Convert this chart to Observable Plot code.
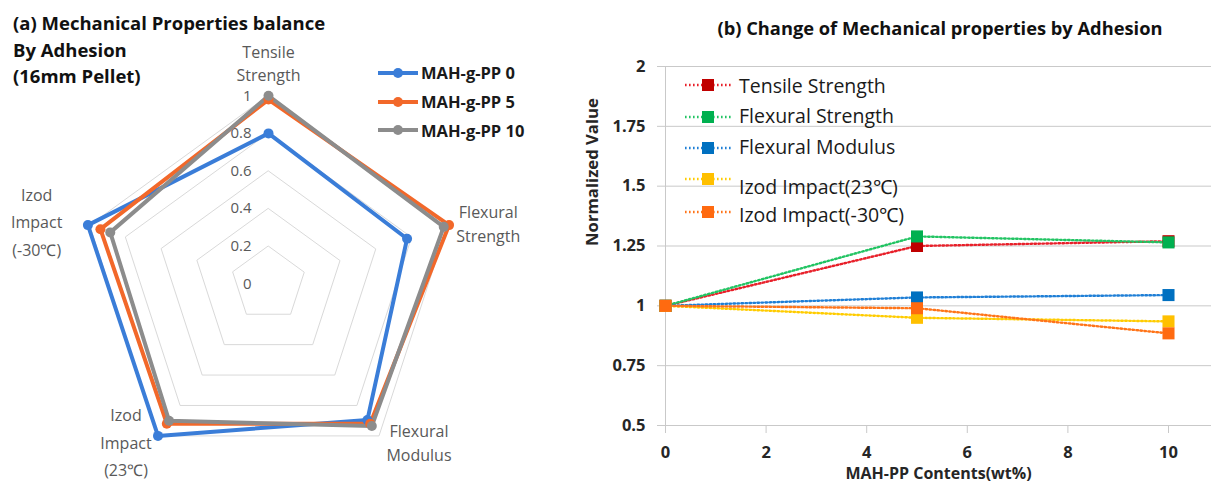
<!DOCTYPE html>
<html>
<head>
<meta charset="utf-8">
<script src="https://cdn.jsdelivr.net/npm/d3@7"></script>
<script src="https://cdn.jsdelivr.net/npm/@observablehq/plot@0.6"></script>
<style>
  body { margin: 0; background: #fff; font-family: "Open Sans", sans-serif; }
  #page { position: relative; width: 1211px; height: 484px; overflow: hidden; background: #fff; }
  #page > * { position: absolute; }
  .title { font-weight: bold; color: #111; white-space: nowrap; }
  .legend-row { display: flex; align-items: center; white-space: nowrap; }
  .legend-row svg { flex: none; }
</style>
</head>
<body>
<div id="page"></div>
<script>
// ---------- (a) radar: mechanical properties balance ----------
const radarAxes = ["Tensile\nStrength", "Flexural\nStrength", "Flexural\nModulus", "Izod\nImpact\n(23℃)", "Izod\nImpact\n(-30℃)"];
const radarSeries = ["MAH-g-PP 0", "MAH-g-PP 5", "MAH-g-PP 10"];
const radarMah0 = [0.80, 0.775, 0.895, 1.0, 1.01];
const radarMah5 = [0.98, 1.01, 0.92, 0.92, 0.94];
const radarMah10 = [1.0, 0.98, 0.935, 0.90, 0.885];
const radarRings = [0, 0.2, 0.4, 0.6, 0.8, 1];
const radarColors = ["#3a7dd8", "#f2682a", "#8c8c8c"];

// ---------- (b) normalized change vs. MAH-PP content ----------
const contents = [0, 5, 10];
const propNames = ["Tensile Strength", "Flexural Strength", "Flexural Modulus", "Izod Impact(23℃)", "Izod Impact(-30℃)"];
const tensileStrength = [1, 1.25, 1.27];
const flexuralStrength = [1, 1.29, 1.265];
const flexuralModulus = [1, 1.035, 1.045];
const izod23 = [1, 0.95, 0.935];
const izodMinus30 = [1, 0.99, 0.885];
const yTicks = [0.5, 0.75, 1, 1.25, 1.5, 1.75, 2];
const xTicks = [0, 2, 4, 6, 8, 10];
const markerColors = ["#c00000", "#00b050", "#0070c0", "#ffc000", "#ff6a10"];
const lineColors = ["#e8202a", "#22c463", "#1f7fd6", "#ffcc00", "#ff7418"];

const page = document.getElementById("page");
function put(el, left, top) {
  el.style.left = left + "px";
  el.style.top = top + "px";
  page.appendChild(el);
  return el;
}

// ---- radar geometry: value v on axis i -> cartesian
const angle = (i) => (2 * Math.PI * i) / radarAxes.length;
const rx = (v, i) => v * Math.sin(angle(i));
const ry = (v, i) => v * Math.cos(angle(i));

const radarValues = [radarMah0, radarMah5, radarMah10];
const radarRows = radarSeries.flatMap((s, k) => radarValues[k].map((v, i) => ({series: s, i, v})));
const ringRows = radarRings.filter((t) => t > 0).flatMap((t) => radarAxes.map((_, i) => ({t, i})));
const axisRows = radarAxes.map((name, i) => ({name, i}));

// placement of each axis title relative to its outer vertex
const axisLabelPlacement = [
  {dx: 0, dy: -34, lineHeight: 1.45},
  {dx: 41, dy: -3, lineHeight: 1.5},
  {dx: 40, dy: 5, lineHeight: 1.5},
  {dx: -32, dy: 4, lineHeight: 1.7},
  {dx: -53, dy: -6, lineHeight: 1.7}
];

const radar = Plot.plot({
  width: 560,
  height: 484,
  marginLeft: 80,
  marginRight: 104,
  marginTop: 95.3,
  marginBottom: 12.7,
  x: {domain: [-1, 1], axis: null},
  y: {domain: [-1, 1], axis: null},
  color: {domain: radarSeries, range: radarColors},
  style: {fontFamily: "Open Sans", fontSize: "16px", color: "#595959", background: "transparent", overflow: "visible"},
  marks: [
    Plot.line(ringRows, {x: (d) => rx(d.t, d.i), y: (d) => ry(d.t, d.i), z: "t", curve: "linear-closed", stroke: "#d9d9d9", strokeWidth: 1}),
    Plot.text(radarRings, {x: () => 0, y: (d) => d, text: (d) => String(d), textAnchor: "end", dx: -17, fill: "#595959", fontSize: 15}),
    ...axisRows.map((d, i) =>
      Plot.text([d], {
        x: (a) => rx(1, a.i),
        y: (a) => ry(1, a.i),
        text: "name",
        textAnchor: "middle",
        lineAnchor: "middle",
        dx: axisLabelPlacement[i].dx,
        dy: axisLabelPlacement[i].dy,
        lineHeight: axisLabelPlacement[i].lineHeight,
        fill: "#595959",
        fontSize: 16
      })
    ),
    Plot.line(radarRows, {x: (d) => rx(d.v, d.i), y: (d) => ry(d.v, d.i), z: "series", stroke: "series", curve: "linear-closed", strokeWidth: 4, strokeLinejoin: "round"}),
    Plot.dot(radarRows, {x: (d) => rx(d.v, d.i), y: (d) => ry(d.v, d.i), fill: "series", r: 5})
  ]
});
put(radar, 0, 0);

// radar title
const titleA = document.createElement("div");
titleA.className = "title";
titleA.style.fontSize = "18.5px";
titleA.style.lineHeight = "26.7px";
titleA.innerHTML = "(a) Mechanical Properties balance<br>By Adhesion<br>(16mm Pellet)";
put(titleA, 13, 10);

// radar legend
radarSeries.forEach((name, k) => {
  const row = document.createElement("div");
  row.className = "legend-row";
  row.style.height = "20px";
  row.style.fontSize = "16.5px";
  row.style.fontWeight = "bold";
  row.style.color = "#1a1a1a";
  row.innerHTML =
    `<svg width="43" height="20"><line x1="0" y1="10" x2="40" y2="10" stroke="${radarColors[k]}" stroke-width="4"/>` +
    `<circle cx="20" cy="10" r="5" fill="${radarColors[k]}"/></svg><span></span>`;
  row.querySelector("span").textContent = name;
  put(row, 378, [72.7, 101.7, 130][k] - 10);
});

// ---- line chart
const propValues = [tensileStrength, flexuralStrength, flexuralModulus, izod23, izodMinus30];
const propRows = propNames.map((p, k) => propValues[k].map((v, i) => ({prop: p, x: contents[i], v})));
const dotted = {strokeWidth: 2.4, strokeDasharray: "1.6,2.4"};

const lineChart = Plot.plot({
  width: 651,
  height: 484,
  marginLeft: 105,
  marginRight: 0,
  marginTop: 66,
  marginBottom: 59,
  x: {domain: [0, 10.855]},
  y: {domain: [0.5, 2]},
  style: {fontFamily: "Open Sans", fontSize: "16.5px", fontWeight: "bold", color: "#262626", background: "transparent", overflow: "visible"},
  marks: [
    Plot.gridY(yTicks, {stroke: "#c9c9c9", strokeOpacity: 1}),
    Plot.ruleX([0], {stroke: "#c9c9c9", y1: 0.5, y2: 2}),
    Plot.axisY(yTicks, {tickSize: 8, tickPadding: 12, stroke: "#c9c9c9", fill: "#262626", tickFormat: (d) => String(d), label: null}),
    Plot.axisX(xTicks, {tickSize: 8, tickPadding: 13, stroke: "#c9c9c9", fill: "#262626", tickFormat: (d) => String(d), label: null}),
    Plot.text(["Normalized Value"], {frameAnchor: "left", rotate: -90, dx: -73, fill: "#262626", fontSize: 16.7, fontWeight: "bold"}),
    Plot.text(["MAH-PP Contents(wt%)"], {frameAnchor: "bottom", dy: 53, fill: "#262626", fontSize: 16, fontWeight: "bold"}),
    ...propRows.map((rows, k) => Plot.line(rows, {x: "x", y: "v", stroke: lineColors[k], ...dotted})),
    ...propRows.map((rows, k) => Plot.dot(rows, {x: "x", y: "v", symbol: "square", r: 6.8, fill: markerColors[k]}))
  ]
});
put(lineChart, 560, 0);

// line chart title
const titleB = document.createElement("div");
titleB.className = "title";
titleB.style.fontSize = "18.3px";
titleB.style.lineHeight = "24px";
titleB.style.width = "600px";
titleB.style.textAlign = "center";
titleB.textContent = "(b) Change of Mechanical properties by Adhesion";
put(titleB, 940 - 300, 16);

// line chart legend
const legendTextY = [86, 116, 147.3, 187, 215];
const legendMarkY = [85, 116.7, 148.3, 179.3, 211.7];
propNames.forEach((name, k) => {
  const sw = document.createElementNS("http://www.w3.org/2000/svg", "svg");
  sw.setAttribute("width", "50");
  sw.setAttribute("height", "16");
  sw.innerHTML =
    `<line x1="2" y1="8" x2="48" y2="8" stroke="${lineColors[k]}" stroke-width="${dotted.strokeWidth}" stroke-dasharray="${dotted.strokeDasharray}"/>` +
    `<rect x="19" y="2" width="12" height="12" fill="${markerColors[k]}"/>`;
  put(sw, 683, legendMarkY[k] - 8);
  const label = document.createElement("div");
  label.style.fontSize = "19.5px";
  label.style.lineHeight = "26px";
  label.style.color = "#1a1a1a";
  label.style.whiteSpace = "nowrap";
  label.textContent = name;
  put(label, 739, legendTextY[k] - 13);
});
</script>
</body>
</html>
